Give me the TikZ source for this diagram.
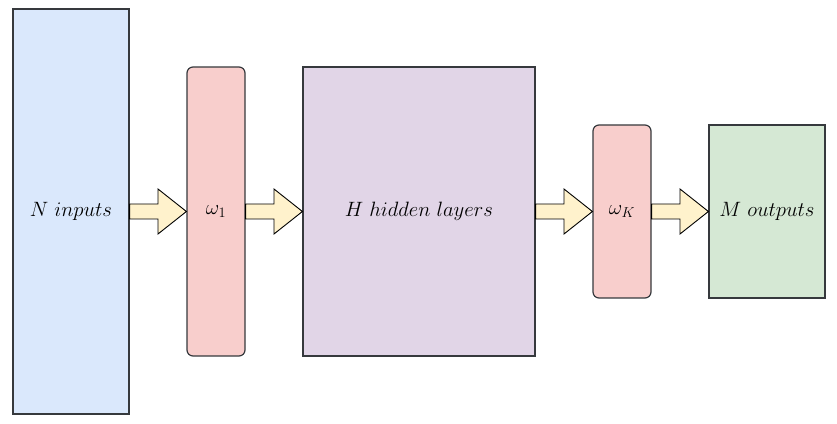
\documentclass[tikz,border=0pt]{standalone}
\usetikzlibrary{calc}

\definecolor{lineGray}{HTML}{36393D}
\definecolor{inBlue}{HTML}{DAE8FC}
\definecolor{wRed}{HTML}{F8CECC}
\definecolor{hidPurple}{HTML}{E1D5E7}
\definecolor{outGreen}{HTML}{D5E8D4}
\definecolor{arrowYellow}{HTML}{FFF2CC}

\tikzset{
  layerbox/.style={draw=lineGray, line width=1.2pt, inner sep=0pt, font=\fontsize{20}{24}\selectfont},
  weightbox/.style={layerbox, rounded corners=6pt},
  blockarrow/.style={draw=black, line width=0.9pt, fill=arrowYellow, line join=miter}
}

\begin{document}
\begin{tikzpicture}[x=1pt,y=1pt]
		\useasboundingbox (0,0) rectangle (837,423);
		
		\node [layerbox, fill=inBlue, minimum width=116pt, minimum height=405pt] (inp) at (71,211.5) {$N\ inputs$};
		\node [weightbox, fill=wRed, minimum width=58pt, minimum height=289pt] (w1) at (216,211.5) {$\omega_1$};
		\node [layerbox, fill=hidPurple, minimum width=232pt, minimum height=289pt] (hid) at (419,211.5) {$H\ hidden\ layers$};
		\node [weightbox, fill=wRed, minimum width=58pt, minimum height=173pt] (wk) at (622,211.5) {$\omega_K$};
		\node [layerbox, fill=outGreen, minimum width=116pt, minimum height=173pt] (out) at (767,211.5) {$M\ outputs$};
		
		% block arrows between the boxes
		\foreach \a/\b in {inp/w1, w1/hid, hid/wk, wk/out}
			\draw [blockarrow] ($(\a.east)+(0,7.5)$) -- ($(\a.east)!.5!(\b.west)+(0,7.5)$) -- ($(\a.east)!.5!(\b.west)+(0,22.5)$)
				-- (\b.west) -- ($(\a.east)!.5!(\b.west)+(0,-22.5)$) -- ($(\a.east)!.5!(\b.west)+(0,-7.5)$) -- ($(\a.east)+(0,-7.5)$) -- cycle;
		
\end{tikzpicture}
\end{document}
